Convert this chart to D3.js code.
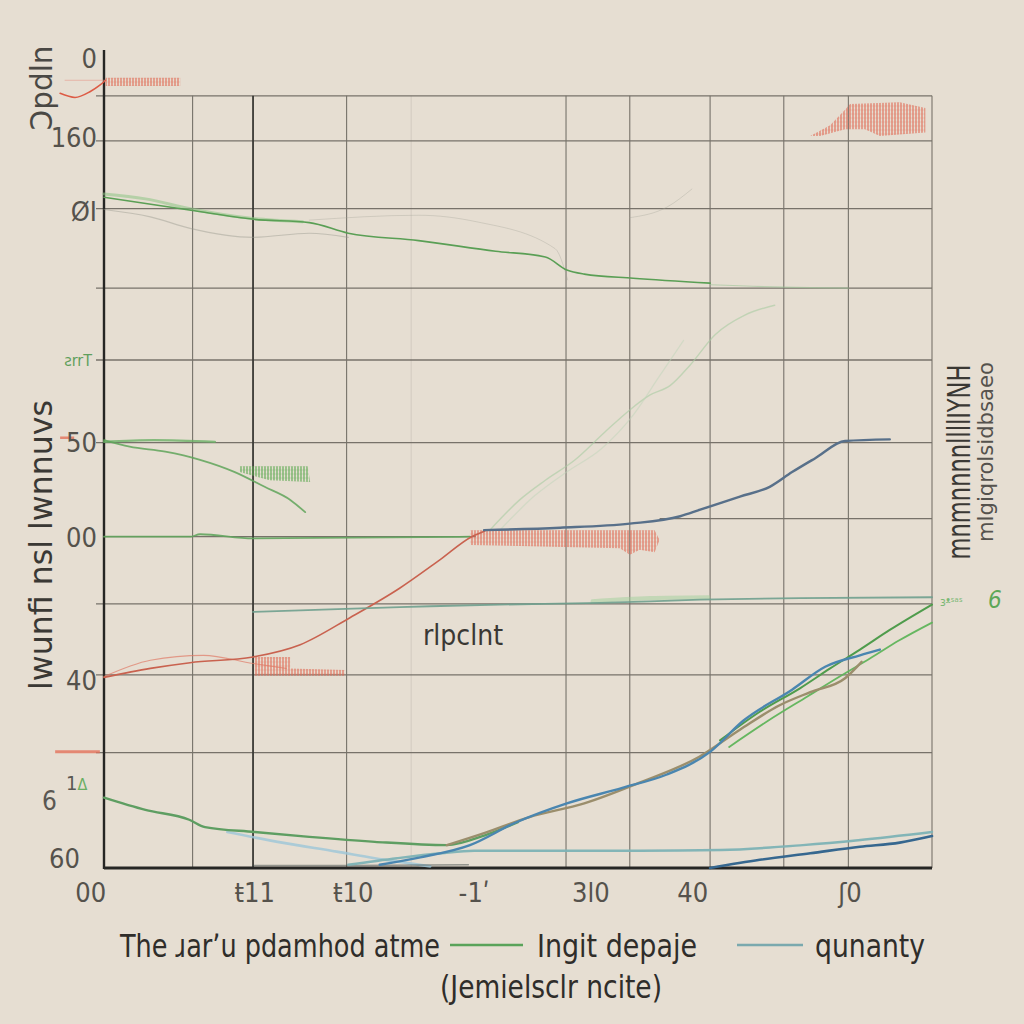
<!DOCTYPE html>
<html><head><meta charset="utf-8">
<script src="https://cdn.jsdelivr.net/npm/d3@7"></script>
<style>html,body{margin:0;padding:0;background:#e6ded2;} svg{display:block}</style>
</head><body><svg id="c" width="1024" height="1024"></svg>
<script>
// ---------- DATA ----------
const xGridVals   = [10.7, 18.0, 29.3, 37.1, 55.8, 63.5, 73.2, 82.1, 89.9, 100];
const xGridDark   = [18.0];
const xGridFaint  = [37.1];
const yGridVals   = [94.4, 88.9, 80.6, 70.9, 62.1, 52.0, 32.3, 23.6, 14.1];
const yGridPartY  = [42.7, 40.5];
const yGridPartX0 = [67.1, 0];
const yGridPartX1 = [100, 44.9];

const xTickLabels = ["00", "ŧ11", "ŧ10", "-1ʹ", "3l0", "40", "ʃ0"];
const xTickPos    = [-1.6, 18.2, 30.1, 44.7, 58.8, 71.1, 90.1];
const yTickLabels = ["0", "160", "ØI", "50", "00", "40", "60"];
const yTickPos    = [99.0, 89.4, 80.3, 52.1, 40.5, 23.0, 1.2];

const legendLabels = ["The ɹarʼu pdamhod atme", "Ingit depaje", "qunanty"];

const greenTop      = [[0,82.0],[10.5,80.4],[18.1,79.3],[24.8,78.9],[29.5,77.6],[38.0,76.7],[47.3,75.4],[53.3,74.7],[55.9,73.1],[58.0,72.6],[63.9,72.1],[73.2,71.5]];
const greenTopTail  = [[73.2,71.3],[82.1,71.0],[89.9,70.9]];
const greenTopLight = [[0,82.4],[5,81.8],[10.4,80.6],[18,79.4],[24,79.0]];
const greyFaint1    = [[0,80.5],[5.6,79.6],[10.4,78.2],[18,77.1],[24.8,77.6],[29.5,77.1]];
const greyFaint2    = [[24.8,79.2],[38,79.8],[45,79.0],[54.5,75.7],[56,71.9]];
const greyFaint3    = [[63.5,79.5],[68,80.8],[71,83.0]];
const greenFifty    = [[0,52.3],[3.1,51.5],[7.4,50.9],[11.6,49.9],[15.8,48.4],[19.4,46.6],[22.5,45.0],[24.3,43.5]];
const greenFiftyFlat= [[0,52.1],[6,52.3],[13.4,52.1]];
const greenZero     = [[0,40.5],[10.4,40.5],[11.6,40.8],[18,40.3],[30,40.4],[44.2,40.5]];
const redRise       = [[0,23.3],[5.6,24.4],[10.4,25.1],[18,25.8],[23.7,27.3],[29.7,30.6],[35.7,34.2],[40.6,37.7],[44.4,40.5],[46,41.2]];
const redThin       = [[0,23.4],[5.6,25.4],[12,26.0],[18,25.0],[22,24.4]];
const slateRise     = [[45.9,41.3],[55.1,41.6],[63.5,42.1],[69.6,43.0],[72,43.8],[76.8,45.4],[80.4,46.6],[83.1,48.4],[85.9,50.1],[89.5,52.2],[94.9,52.4]];
const greenFaintUp  = [[46.6,41.3],[50.2,45.0],[53.3,47.4],[56.9,49.9],[60.5,53.3],[63.5,56.0],[65.9,57.8],[68.4,59.0],[70.8,61.5],[73.8,65.2],[77.4,67.6],[81,68.8]];
const greenFaintUp2 = [[48,41.5],[52,45.5],[56,48.5],[60,51.2],[64,55.5],[67,60.0],[70,64.5]];
const tealMid       = [[18,31.3],[23.7,31.5],[35.7,31.9],[39.4,32.0],[47.8,32.2],[59.9,32.4],[72,32.8],[84.1,33.0],[100,33.1]];
const tealMidLight  = [[59,32.6],[66,33.0],[73,33.1]];
const greenUpA      = [[74.4,15.6],[79.2,19.1],[84.1,22.0],[87.7,24.4],[91.3,26.7],[94.9,29.1],[100,32.2]];
const greenUpB      = [[75.5,14.8],[80.2,18.0],[85,21.0],[89,23.5],[92.5,25.6],[96,27.8],[100,30.0]];
const blueRise      = [[33.3,0.4],[38.2,1.3],[44.2,2.8],[49.6,5.5],[55.9,7.9],[62.6,9.8],[67.9,11.4],[73.2,14.2],[77.2,18.0],[83.1,21.8],[87.1,24.6],[91.3,26.0],[93.7,26.7]];
const brownRise     = [[41.4,2.8],[46,4.3],[51.3,6.2],[58,7.9],[64.6,10.4],[71.9,13.6],[76.8,16.9],[81.6,19.9],[85.3,21.5],[89.5,23.2],[91.5,25.2]];
const greenLow      = [[0,8.6],[5,7.1],[10.3,5.9],[12.2,5.0],[18.2,4.4],[24.8,3.8],[32.7,3.2],[41.4,2.8],[46,4.0],[50,5.6]];
const tealLow       = [[29.5,0.4],[35.4,1.2],[40.7,1.8],[44.7,2.1],[64.6,2.1],[74.5,2.2],[84.4,2.8],[91.1,3.4],[100,4.4]];
const lightBlueLow  = [[14.9,4.4],[21.5,3.1],[28.1,2.0],[32.7,1.2],[36.7,0.6],[39.4,0.2]];
const darkBlueLow   = [[73.2,0],[79.2,1.0],[85.3,1.8],[91.3,2.6],[96.1,3.1],[100,3.9]];
const darkBottom    = [[18,0.3],[30,0.3],[44,0.4]];
const redTopLeft    = [[-5.3,94.7],[-3.5,94.2],[-1.7,94.9],[-0.5,95.7],[0.2,96.3]];
const redTopThin    = [[-4.7,96.3],[0.1,96.3]];

const redBlobTopLeft  = [[0.2,96.6],[9.2,96.6],[9.2,95.6],[0.2,95.6]];
const redBlobTopRight = [[85.3,89.5],[87.7,90.8],[89.5,92.7],[90.1,93.4],[96.1,93.6],[99.2,92.9],[99.2,89.9],[93.7,89.5],[91.9,90.3],[89.5,90.3],[86.5,89.5]];
const redBlobMid      = [[44.2,41.3],[66.5,41.3],[67.1,40.1],[66.5,38.6],[64.7,38.9],[63.5,38.3],[62.3,39.1],[44.2,39.5]];
const redBlobLeft     = [[18.2,25.8],[22.5,25.8],[22.5,24.4],[29.1,24.2],[29.1,23.5],[18.2,23.5]];
const greenBlob       = [[16.4,49.1],[24.6,49.1],[24.9,47.2],[20.0,47.4],[16.4,48.4]];

// ---------- DRAW ----------
const svg = d3.select("#c");
const FONT = "'Liberation Sans Narrow','DejaVu Sans Condensed','Roboto',sans-serif";
const x = d3.scaleLinear().domain([0,100]).range([104,932]);
const y = d3.scaleLinear().domain([0,100]).range([868,50]);

svg.append("rect").attr("width",1024).attr("height",1024).attr("fill","#e6ded2");

const defs = svg.append("defs");
function hatch(id, color){
  const p = defs.append("pattern").attr("id",id).attr("patternUnits","userSpaceOnUse")
    .attr("width",3).attr("height",4);
  p.append("line").attr("x1",1).attr("y1",0).attr("x2",1).attr("y2",4).attr("stroke",color).attr("stroke-width",1.3);
  p.append("line").attr("x1",0).attr("y1",2).attr("x2",3).attr("y2",2).attr("stroke",color).attr("stroke-width",0.5).attr("opacity",0.6);
}
hatch("hr","#e06a55");
hatch("hg","#5aa84f");

// grid
const g = svg.append("g");
g.selectAll(".hg").data(yGridVals).join("line")
  .attr("x1",x(0)-8).attr("x2",x(100)).attr("y1",d=>y(d)).attr("y2",d=>y(d))
  .attr("stroke","#77726a").attr("stroke-width",1.3);
g.selectAll(".hp").data(yGridPartY).join("line")
  .attr("x1",(d,i)=>x(yGridPartX0[i])).attr("x2",(d,i)=>x(yGridPartX1[i]))
  .attr("y1",d=>y(d)).attr("y2",d=>y(d))
  .attr("stroke","#77726a").attr("stroke-width",1.3);
g.selectAll(".vg").data(xGridVals).join("line")
  .attr("x1",d=>x(d)).attr("x2",d=>x(d)).attr("y1",y(94.4)).attr("y2",y(0))
  .attr("stroke",d=> xGridDark.includes(d) ? "#3a3935" : "#77726a")
  .attr("stroke-width",d=> xGridDark.includes(d) ? 1.8 : 1.1)
  .attr("opacity",d=> xGridFaint.includes(d) ? 0.15 : 1);

// axes
svg.append("line").attr("x1",x(0)).attr("x2",x(0)).attr("y1",y(100)).attr("y2",y(0)+1)
  .attr("stroke","#262624").attr("stroke-width",2.4);
svg.append("line").attr("x1",x(0)).attr("x2",x(100)).attr("y1",y(0)).attr("y2",y(0))
  .attr("stroke","#262624").attr("stroke-width",3);

// blobs
const poly = d3.line().x(d=>x(d[0])).y(d=>y(d[1]));
[[redBlobTopLeft,"hr"],[redBlobTopRight,"hr"],[redBlobMid,"hr"],[redBlobLeft,"hr"],[greenBlob,"hg"]].forEach(([d,id])=>{
  svg.append("path").attr("d",poly(d)+"Z").attr("fill",`url(#${id})`).attr("opacity",0.85);
});

// lines
const line = d3.line().x(d=>x(d[0])).y(d=>y(d[1])).curve(d3.curveMonotoneX);
const series = [
  [greyFaint1,"#9a9a8e",1.2,0.45],
  [greyFaint2,"#a3a497",1.0,0.35],
  [greyFaint3,"#a3a497",1.0,0.35],
  [greenTopLight,"#8cc483",3,0.55],
  [greenTop,"#5a9f55",1.6,1],
  [greenTopTail,"#9cc497",1.2,0.6],
  [greenFiftyFlat,"#6bb067",2.2,0.8],
  [greenFifty,"#5fa55b",1.8,0.85],
  [greenZero,"#62a55e",1.8,0.9],
  [greenFaintUp,"#a9cba2",1.4,0.6],
  [greenFaintUp2,"#c0d6b9",1.2,0.5],
  [redThin,"#e07a66",1.2,0.7],
  [redRise,"#c9624f",1.6,1],
  [slateRise,"#58708a",2.4,1],
  [tealMidLight,"#9fcf9a",4,0.5],
  [tealMid,"#6fa08e",1.8,0.9],
  [greenUpB,"#5fb45a",1.8,0.95],
  [greenUpA,"#4f9c4c",2,1],
  [lightBlueLow,"#9cc6d8",2.6,0.8],
  [darkBottom,"#3f4a48",1.6,0.5],
  [tealLow,"#7db2b5",2.4,0.95],
  [greenLow,"#5e9e62",2.4,1],
  [brownRise,"#9b8e6c",2.4,1],
  [blueRise,"#4a86b0",2.4,1],
  [darkBlueLow,"#36678f",2.6,1],
  [redTopLeft,"#dd5b45",1.6,1],
  [redTopThin,"#e89a8a",1,0.6],
];
series.forEach(([d,c,w,o])=>{
  svg.append("path").attr("d",line(d)).attr("fill","none").attr("stroke",c)
    .attr("stroke-width",w).attr("opacity",o).attr("stroke-linecap","round");
});

// small marks outside axis
svg.append("line").attr("x1",x(-5.9)).attr("x2",x(-0.5)).attr("y1",y(14.2)).attr("y2",y(14.2))
  .attr("stroke","#e4735c").attr("stroke-width",3).attr("opacity",0.8);
svg.append("line").attr("x1",x(-5.3)).attr("x2",x(-3.6)).attr("y1",y(52.6)).attr("y2",y(52.6))
  .attr("stroke","#e4735c").attr("stroke-width",2.5).attr("opacity",0.8);

// tick labels
const tickStyle = s => s.attr("font-family",FONT).attr("fill","#55524c").attr("font-size",27);
svg.selectAll(".xt").data(xTickLabels).join("text")
  .attr("x",(d,i)=>x(xTickPos[i])).attr("y",902).attr("text-anchor","middle")
  .call(tickStyle).text(d=>d);
svg.selectAll(".yt").data(yTickLabels).join("text")
  .attr("x",(d,i)=> d==="60" ? 80 : 97).attr("y",(d,i)=>y(yTickPos[i])+10).attr("text-anchor","end")
  .call(tickStyle).text(d=>d);
svg.append("text").attr("x",42).attr("y",810).attr("font-family",FONT).attr("font-size",26).attr("fill","#5a5752").text("6");
const sm = svg.append("text").attr("x",66).attr("y",790).attr("font-family",FONT).attr("font-size",20).attr("fill","#5a5752");
sm.append("tspan").text("1");
sm.append("tspan").attr("fill","#6aae63").attr("font-size",16).text("Δ");
svg.append("text").attr("x",92).attr("y",y(62.1)+6).attr("text-anchor","end").attr("font-family",FONT).attr("font-size",16).attr("fill","#5f9f5c").text("ƨrrT");

// rotated titles
function vtext(cx, cy, str, size, len, color){
  svg.append("text").attr("transform",`translate(${cx},${cy}) rotate(-90)`)
    .attr("text-anchor","middle").attr("font-family",FONT).attr("font-size",size)
    .attr("fill",color||"#3a3834").attr("textLength",len).attr("lengthAdjust","spacingAndGlyphs").text(str);
}
vtext(52, 545, "lwunfi nsl lwnnuvs", 32, 290);
vtext(52, 88, "Ↄpdln", 30, 85, "#4a4844");
vtext(970, 462, "mnmnnnnllllIYNH", 32, 195);
vtext(993, 452, "mlgiqrolsidbsaeo", 22, 180, "#55524d");

// center label
svg.append("text").attr("x",463).attr("y",645).attr("text-anchor","middle")
  .attr("font-family",FONT).attr("font-size",28).attr("fill","#3a3834").text("rlpclnt");

// right green annotation
svg.append("text").attr("x",940).attr("y",606).attr("font-family",FONT).attr("font-size",12).attr("fill","#7ab874").text("ɜᵜˢᵃˢ");
svg.append("text").attr("x",988).attr("y",608).attr("font-family",FONT).attr("font-size",24).attr("font-style","italic").attr("fill","#5da758").text("6");

// legend
const lg = svg.append("g").attr("font-family",FONT).attr("fill","#2f2d2a").attr("font-size",32);
lg.append("text").attr("x",120).attr("y",957).attr("textLength",320).attr("lengthAdjust","spacingAndGlyphs").text(legendLabels[0]);
lg.append("line").attr("x1",450).attr("x2",523).attr("y1",945).attr("y2",945).attr("stroke","#5aa35a").attr("stroke-width",2.5);
lg.append("text").attr("x",537).attr("y",957).attr("textLength",160).attr("lengthAdjust","spacingAndGlyphs").text(legendLabels[1]);
lg.append("line").attr("x1",737).attr("x2",803).attr("y1",945).attr("y2",945).attr("stroke","#7aa9ae").attr("stroke-width",2.5);
lg.append("text").attr("x",815).attr("y",957).attr("textLength",110).attr("lengthAdjust","spacingAndGlyphs").text(legendLabels[2]);
lg.append("text").attr("x",440).attr("y",998).attr("textLength",222).attr("lengthAdjust","spacingAndGlyphs").text("(Jemielsclr ncite)");
</script></body></html>
